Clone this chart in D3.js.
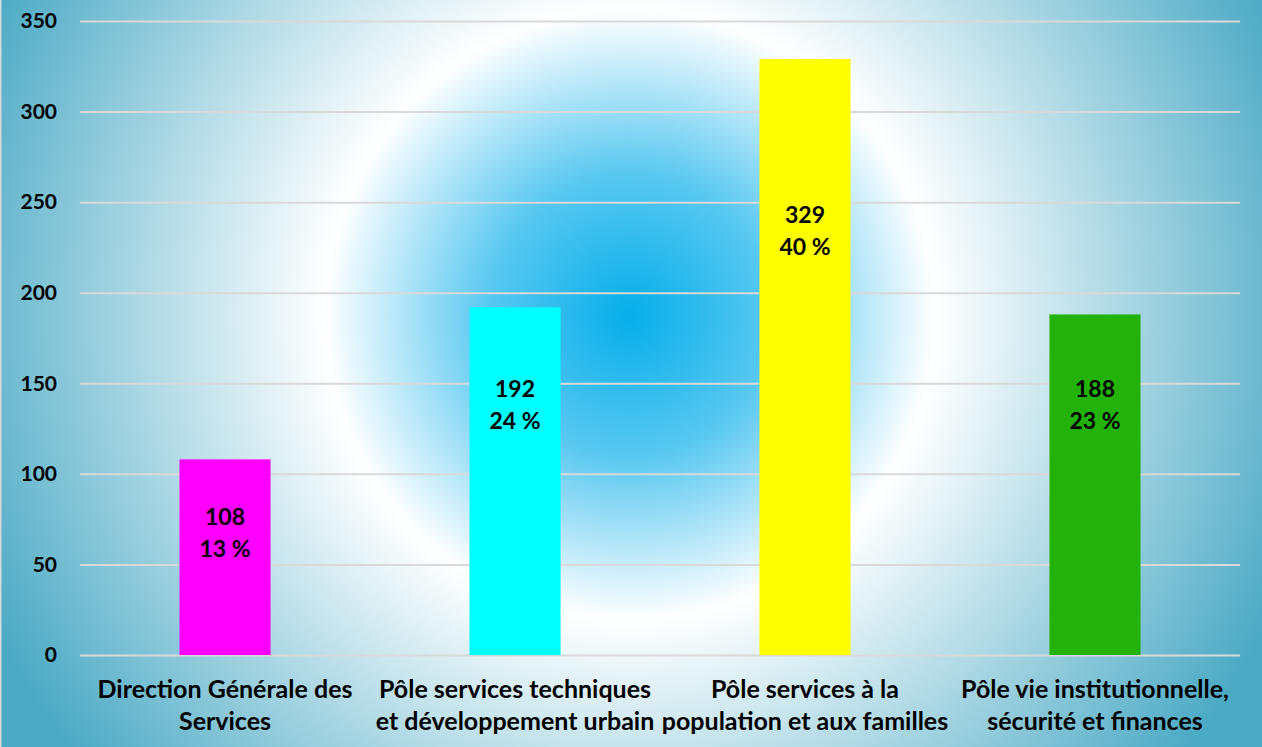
<!DOCTYPE html>
<html><head><meta charset="utf-8">
<script src="https://cdn.jsdelivr.net/npm/d3@7/dist/d3.min.js"></script>
<style>html,body{margin:0;padding:0;overflow:hidden;background:#fff}</style>
</head><body><svg id="c" width="1262" height="747"></svg>
<script>
const categories = [
  ["Direction Générale des", "Services"],
  ["Pôle services techniques", "et développement urbain"],
  ["Pôle services à la", "population et aux familles"],
  ["Pôle vie institutionnelle,", "sécurité et finances"]
];
const values = [108, 192, 329, 188];
const colors = ["#ff00ff", "#00ffff", "#ffff00", "#22b20a"];
const labelAt = [76, 147, 243, 147];
const yTicks = [0, 50, 100, 150, 200, 250, 300, 350];

const W = 1262, H = 747;
const svg = d3.select("#c");
const defs = svg.append("defs");
const g = defs.append("radialGradient").attr("id","bg")
  .attr("gradientUnits","userSpaceOnUse").attr("cx",630).attr("cy",315).attr("r",710);
[[0,"#06aeea"],[0.2,"#59c8f0"],[0.43,"#ffffff"],[1,"#4aa9c4"]].forEach(s=>
  g.append("stop").attr("offset",s[0]).attr("stop-color",s[1]));
svg.append("rect").attr("width",W).attr("height",H).attr("fill","url(#bg)");
svg.append("line").attr("x1",0.5).attr("x2",0.5).attr("y1",0).attr("y2",H).attr("stroke","#d9d9d9").attr("stroke-width",2);

const x = d3.scaleBand().domain(d3.range(values.length)).range([80,1240]).paddingInner(0.686).paddingOuter(0.343);
const y = d3.scaleLinear().domain([0,350]).range([655,21]);
const total = d3.sum(values);
const font = "Lato, 'Open Sans', sans-serif";

// gridlines
const ga = svg.append("g").attr("transform","translate(1240,0)").call(d3.axisLeft(y).tickValues(yTicks).tickSize(1160).tickFormat(""));
ga.select(".domain").remove();
ga.selectAll(".tick line").attr("stroke","#d9d9d9").attr("stroke-width",2);

const gl = svg.append("g").attr("transform","translate(80,0)").call(d3.axisLeft(y).tickValues(yTicks).tickSize(0).tickPadding(23));
gl.select(".domain").remove();
gl.selectAll(".tick text").attr("font-family",font).attr("font-weight","bold").attr("font-size",21).attr("fill","#000");

// bars
svg.selectAll("rect.bar").data(values).join("rect").attr("class","bar")
  .attr("x",(d,i)=>x(i)).attr("width",x.bandwidth())
  .attr("y",d=>y(d)).attr("height",d=>y(0)-y(d))
  .attr("fill",(d,i)=>colors[i]);

// bar labels
values.forEach((v,i)=>{
  const cx = x(i)+x.bandwidth()/2;
  const t = svg.append("text").attr("x",cx).attr("y",y(labelAt[i]))
    .attr("text-anchor","middle").attr("font-family",font).attr("font-weight","bold")
    .attr("font-size",23).attr("fill","#000");
  t.append("tspan").attr("x",cx).attr("dy","0.35em").text(v);
  t.append("tspan").attr("x",cx).attr("dy",32).text(Math.round(v/total*100)+" %");
});

// category labels
const xb = d3.scaleBand().domain(d3.range(values.length)).range([80,1240]);
categories.forEach((lines,i)=>{
  const cx = xb(i)+xb.bandwidth()/2;
  const t = svg.append("text").attr("x",cx).attr("y",689)
    .attr("text-anchor","middle").attr("font-family",font).attr("font-weight","bold")
    .attr("font-size",25).attr("fill","#000");
  lines.forEach((l,j)=>t.append("tspan").attr("x",cx).attr("dy",j===0?"0.35em":32).text(l));
});
</script></body></html>
